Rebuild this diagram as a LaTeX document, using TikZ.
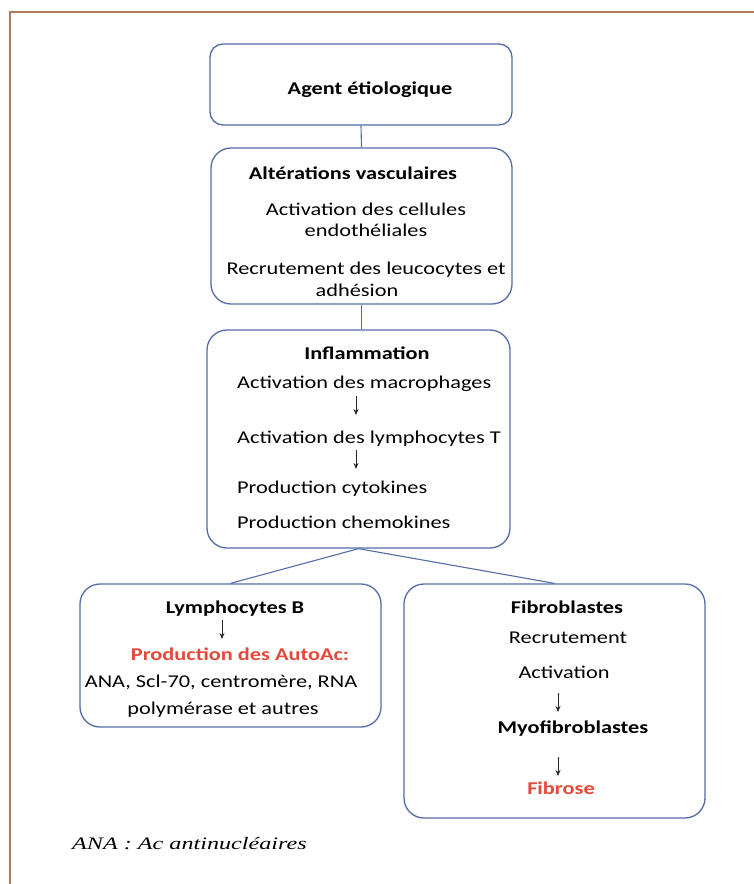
\documentclass[tikz,border=0pt]{standalone}
\usepackage{fontspec}
\setmainfont{Carlito}[FakeStretch=1.24]
\newfontfamily\serifit{Liberation Serif}[FakeStretch=1.38]
\usetikzlibrary{arrows.meta}
\definecolor{frame}{RGB}{178,118,88}
\definecolor{boxc}{RGB}{84,108,168}
\definecolor{redt}{RGB}{229,73,58}
\tikzset{
  x=1pt,y=-1pt,
  box/.style={draw=boxc,line width=1.3pt,rounded corners=20pt},
  txt/.style={font=\fontsize{18}{21}\selectfont,inner sep=0pt,anchor=base},
  ltxt/.style={txt,anchor=base west},
  btxt/.style={txt,font=\fontsize{18}{21}\selectfont\bfseries},
  rtxt/.style={btxt,text=redt},
  link/.style={draw=boxc,line width=1.1pt},
  sarrow/.style={draw=black!85,line width=0.9pt,-{Stealth[length=6pt,width=5pt]}}
}
\begin{document}
\begin{tikzpicture}
\useasboundingbox (0,0) rectangle (754,884);
\draw[frame,line width=2pt] (10,884) -- (10,12) -- (754,12);
% boxes
\node[box,rounded corners=13pt,minimum width=302pt,minimum height=81pt] (agent) at (361,84.5) {};
\node[box,minimum width=301pt,minimum height=156pt] (alt) at (361.5,226) {};
\node[box,minimum width=303pt,minimum height=218pt] (infl) at (358.5,439) {};
\node[box,minimum width=301pt,minimum height=143pt] (lymb) at (230.5,655.5) {};
\node[box,minimum width=301pt,minimum height=234pt] (fib) at (554.5,701) {};
% connectors
\draw[link] (agent.south) -- (alt.north);
\draw[link] (alt.south) -- (alt.south |- infl.north);
\draw[link] (infl.south) -- (lymb.north);
\draw[link] (infl.south) -- (fib.north);
% texts box 1
\node[btxt] (t1) at (370,94) {Agent étiologique};
% box 2
\node[btxt] (t2) at (353,179) {Altérations vasculaires};
\node[txt] (t3) at (366,215) {Activation des cellules};
\node[txt] (t4) at (366,236) {endothéliales};
\node[txt] (t5) at (366,274) {Recrutement des leucocytes et};
\node[txt] (t6) at (357,296) {adhésion};
% box 3
\node[btxt] (t7) at (367,359) {Inflammation};
\node[ltxt] (t8) at (237,388) {Activation des macrophages};
\node[ltxt] (t9) at (237,443) {Activation des lymphocytes T};
\node[ltxt] (t10) at (237,493) {Production cytokines};
\node[ltxt] (t11) at (237,528) {Production chemokines};
\coordinate (a1s) at (356,396);
\coordinate (a1e) at (356,415);
\coordinate (a2s) at (356,450);
\coordinate (a2e) at (356,469);
\draw[sarrow] (a1s) -- (a1e);
\draw[sarrow] (a2s) -- (a2e);
% box 4
\node[btxt] (t12) at (235,613) {Lymphocytes B};
\coordinate (a3s) at (222,620);
\coordinate (a3e) at (222,639);
\draw[sarrow] (a3s) -- (a3e);
\node[rtxt] (t13) at (240,660) {Production des AutoAc:};
\node[txt] (t14) at (221,687) {ANA, Scl-70, centromère, RNA};
\node[txt] (t15) at (223,714) {polymérase et autres};
% box 5
\node[btxt] (t16) at (567,613) {Fibroblastes};
\node[txt] (t17) at (568,643) {Recrutement};
\node[txt] (t18) at (564,678) {Activation};
\coordinate (a4s) at (558,693);
\coordinate (a4e) at (558,712);
\draw[sarrow] (a4s) -- (a4e);
\node[btxt] (t19) at (573,733) {Myofibroblastes};
\coordinate (a5s) at (558,757);
\coordinate (a5e) at (558,776);
\draw[sarrow] (a5s) -- (a5e);
\node[rtxt] (t20) at (561,794) {Fibrose};
% footnote
\node[inner sep=0pt,anchor=base west,font=\serifit\itshape\fontsize{17.5}{20}\selectfont] (fn) at (72,849) {ANA : Ac antinucléaires};
\end{tikzpicture}
\end{document}
